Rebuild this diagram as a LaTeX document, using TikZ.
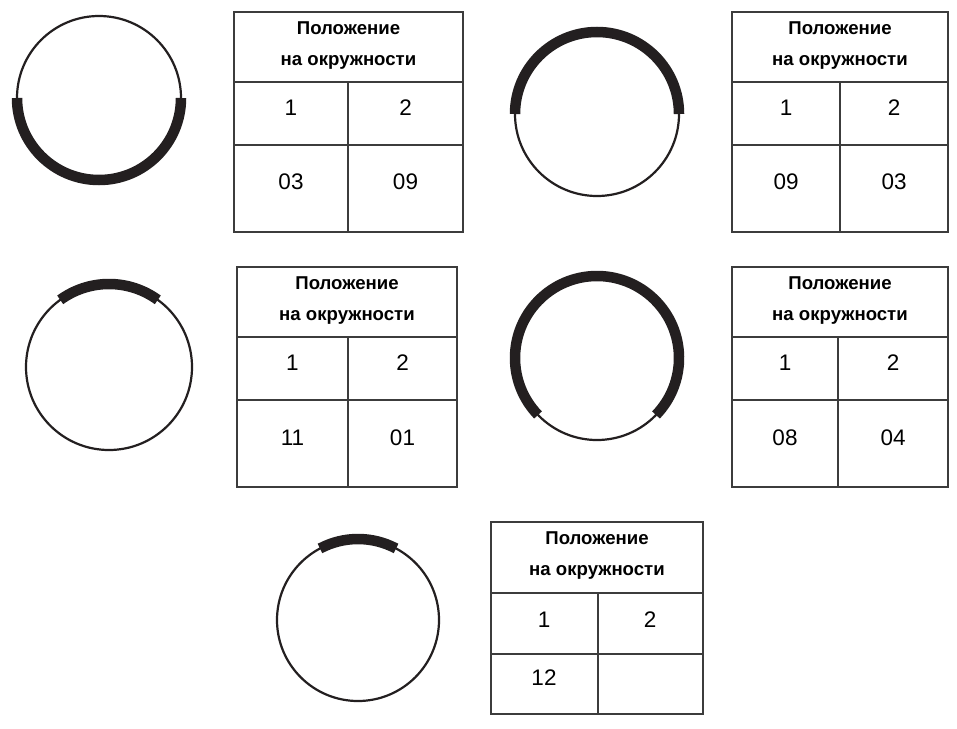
\documentclass[tikz,border=0pt]{standalone}
\usepackage{fontspec}
\setmainfont{Liberation Sans}
\definecolor{ink}{RGB}{35,31,32}
\definecolor{rule}{RGB}{60,60,60}
\begin{document}
\begin{tikzpicture}[x=1pt,y=-1pt,
  ring/.style={draw=ink,line width=2.2pt},
  band/.style={draw=ink,line width=10.5pt,line cap=butt},
  grid/.style={draw=rule,line width=1.3pt},
  head/.style={anchor=base,inner sep=0pt,font=\fontsize{18.6}{20}\selectfont\bfseries},
  num/.style={inner sep=0pt,font=\fontsize{22.5}{25}\selectfont}]
\useasboundingbox (0,0) rectangle (957,728);
\fill[white] (0,0) rectangle (957,728);

% Panel 1
\draw[ring] (99,98) circle (82);
\draw[band] (17,98) arc[start angle=-180,end angle=-360,radius=82];
\draw[grid] (234,12) rectangle (463,232) (234,82) -- (463,82) (234,145) -- (463,145) (348,82) -- (348,232);
\node[head] (h1a) at (348.5,34) {Положение};
\node[head] (h1b) at (348.5,65) {на окружности};
\node[num] (n1a) at (291,108) {1};
\node[num] (n1b) at (405.5,108) {2};
\node[num] (n1c) at (291,182) {03};
\node[num] (n1d) at (405.5,182) {09};

% Panel 2
\draw[ring] (597,114) circle (82);
\draw[band] (679,114) arc[start angle=0,end angle=-180,radius=82];
\draw[grid] (732,12) rectangle (948,232) (732,82) -- (948,82) (732,145) -- (948,145) (840,82) -- (840,232);
\node[head] (h2a) at (840,34) {Положение};
\node[head] (h2b) at (840,65) {на окружности};
\node[num] (n2a) at (786,108) {1};
\node[num] (n2b) at (894,108) {2};
\node[num] (n2c) at (786,182) {09};
\node[num] (n2d) at (894,182) {03};

% Panel 3
\draw[ring] (109,367) circle (83);
\draw[band] ([shift={(-54:83)}]109,367) arc[start angle=-54,end angle=-126,radius=83];
\draw[grid] (237,267) rectangle (457,487) (237,337) -- (457,337) (237,400) -- (457,400) (348,337) -- (348,487);
\node[head] (h3a) at (347,289) {Положение};
\node[head] (h3b) at (347,320) {на окружности};
\node[num] (n3a) at (292.5,363) {1};
\node[num] (n3b) at (402.5,363) {2};
\node[num] (n3c) at (292.5,438) {11};
\node[num] (n3d) at (402.5,438) {01};

% Panel 4
\draw[ring] (597,358) circle (82);
\draw[band] ([shift={(44:82)}]597,358) arc[start angle=44,end angle=-224,radius=82];
\draw[grid] (732,267) rectangle (948,487) (732,337) -- (948,337) (732,400) -- (948,400) (838,337) -- (838,487);
\node[head] (h4a) at (840,289) {Положение};
\node[head] (h4b) at (840,320) {на окружности};
\node[num] (n4a) at (785,363) {1};
\node[num] (n4b) at (893,363) {2};
\node[num] (n4c) at (785,438) {08};
\node[num] (n4d) at (893,438) {04};

% Panel 5
\draw[ring] (358,620) circle (81);
\draw[band] ([shift={(-62:81)}]358,620) arc[start angle=-62,end angle=-118,radius=81];
\draw[grid] (491,522) rectangle (703,714) (491,593) -- (703,593) (491,654) -- (703,654) (598,593) -- (598,714);
\node[head] (h5a) at (597,544) {Положение};
\node[head] (h5b) at (597,575) {на окружности};
\node[num] (n5a) at (544,620) {1};
\node[num] (n5b) at (650,620) {2};
\node[num] (n5c) at (544,678) {12};
\end{tikzpicture}
\end{document}
